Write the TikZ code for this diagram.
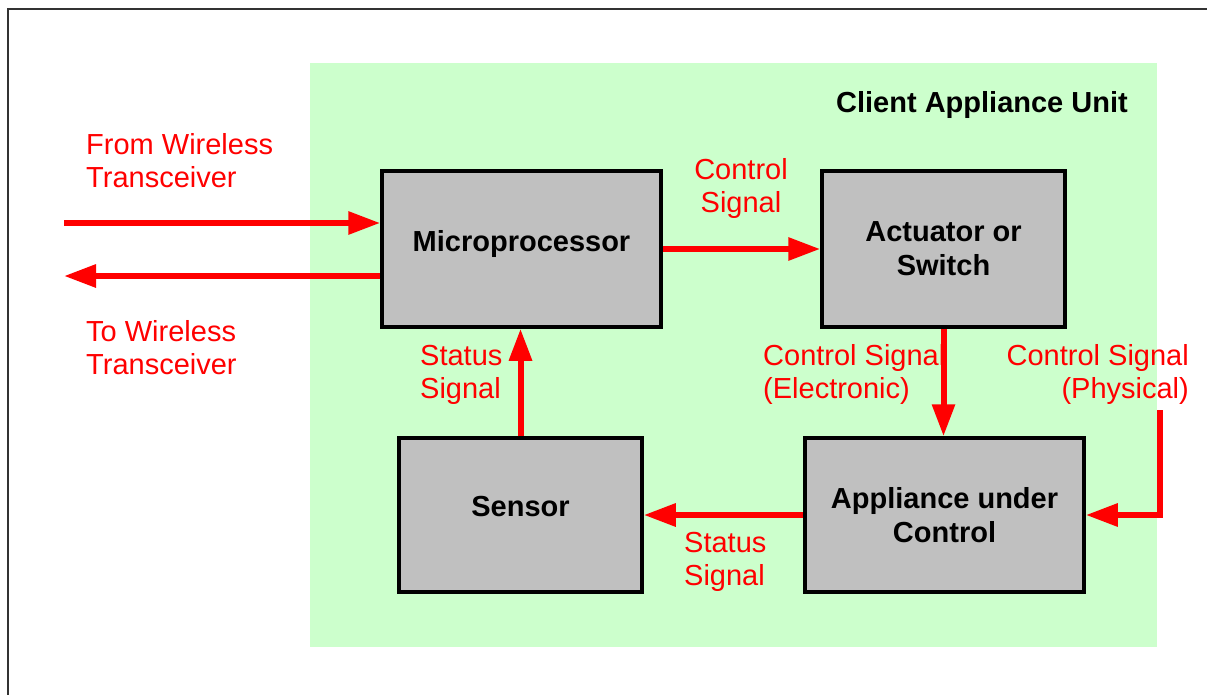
\documentclass[tikz,border=0pt]{standalone}
\usepackage{fontspec}
\setmainfont{Liberation Sans}
\usetikzlibrary{arrows.meta}
\definecolor{bggreen}{HTML}{CCFFCC}
\definecolor{boxgray}{HTML}{C0C0C0}
\definecolor{framegray}{HTML}{333333}
\tikzset{
  blk/.style={draw=black, line width=3.5pt, fill=boxgray, inner sep=0pt,
    align=center, font=\fontsize{29}{34}\selectfont\bfseries},
  sig/.style={draw=red, line width=6pt,
    -{Triangle[length=32pt,width=22pt]}},
  lbl/.style={text=red, inner sep=0pt, font=\fontsize{29}{33}\selectfont},
  ttl/.style={inner sep=0pt, font=\fontsize{29}{34}\selectfont\bfseries},
}
\begin{document}
\begin{tikzpicture}[x=1pt,y=-1pt]
\useasboundingbox (0,0) rectangle (1207,695);
% outer frame (only top and left edges visible)
\draw[framegray, line width=2pt] (8,695) -- (8,9) -- (1207,9);
% green region
\fill[bggreen] (310,63) rectangle (1157,647);
\node[ttl, anchor=base east] (title) at (1128,113) {Client Appliance Unit};
% boxes
\node[blk, minimum width=279pt, minimum height=156pt, text depth=17pt] (mp) at (521.5,249) {Microprocessor};
\node[blk, minimum width=243pt, minimum height=156pt] (act) at (943.5,249) {Actuator or\\Switch};
\node[blk, minimum width=243pt, minimum height=154pt, text depth=17pt] (sen) at (520.5,515) {Sensor};
\node[blk, minimum width=279pt, minimum height=154pt] (app) at (944.5,515) {Appliance under\\Control};
% connectors
\coordinate (fromW) at (64,223);
\coordinate (toW) at (64,276);
\coordinate (phys) at (1160,410);
\draw[sig] (fromW) -- (fromW -| mp.west);
\draw[sig] (toW -| mp.west) -- (toW);
\draw[sig] (mp.east) -- (act.west);
\draw[sig] (act.south) -- (act.south |- app.north);
\draw[sig] (sen.north) -- (sen.north |- mp.south);
\draw[sig] (app.west) -- (sen.east);
\draw[sig] (phys) |- (app.east);
% labels (anchor base = baseline of the last line)
\node[lbl, anchor=base west, align=left] (lfrom) at (86,188) {From Wireless\\Transceiver};
\node[lbl, anchor=base west, align=left] (lto) at (86,374) {To Wireless\\Transceiver};
\node[lbl, anchor=base, align=center] (lcs) at (741,213) {Control\\Signal};
\node[lbl, anchor=base west, align=left] (lel) at (763,398) {Control Signal\\(Electronic)};
\node[lbl, anchor=base east, align=right] (lph) at (1189,398) {Control Signal\\(Physical)};
\node[lbl, anchor=base west, align=left] (lst1) at (420,398) {Status\\Signal};
\node[lbl, anchor=base west, align=left] (lst2) at (684,585) {Status\\Signal};
\end{tikzpicture}
\end{document}
